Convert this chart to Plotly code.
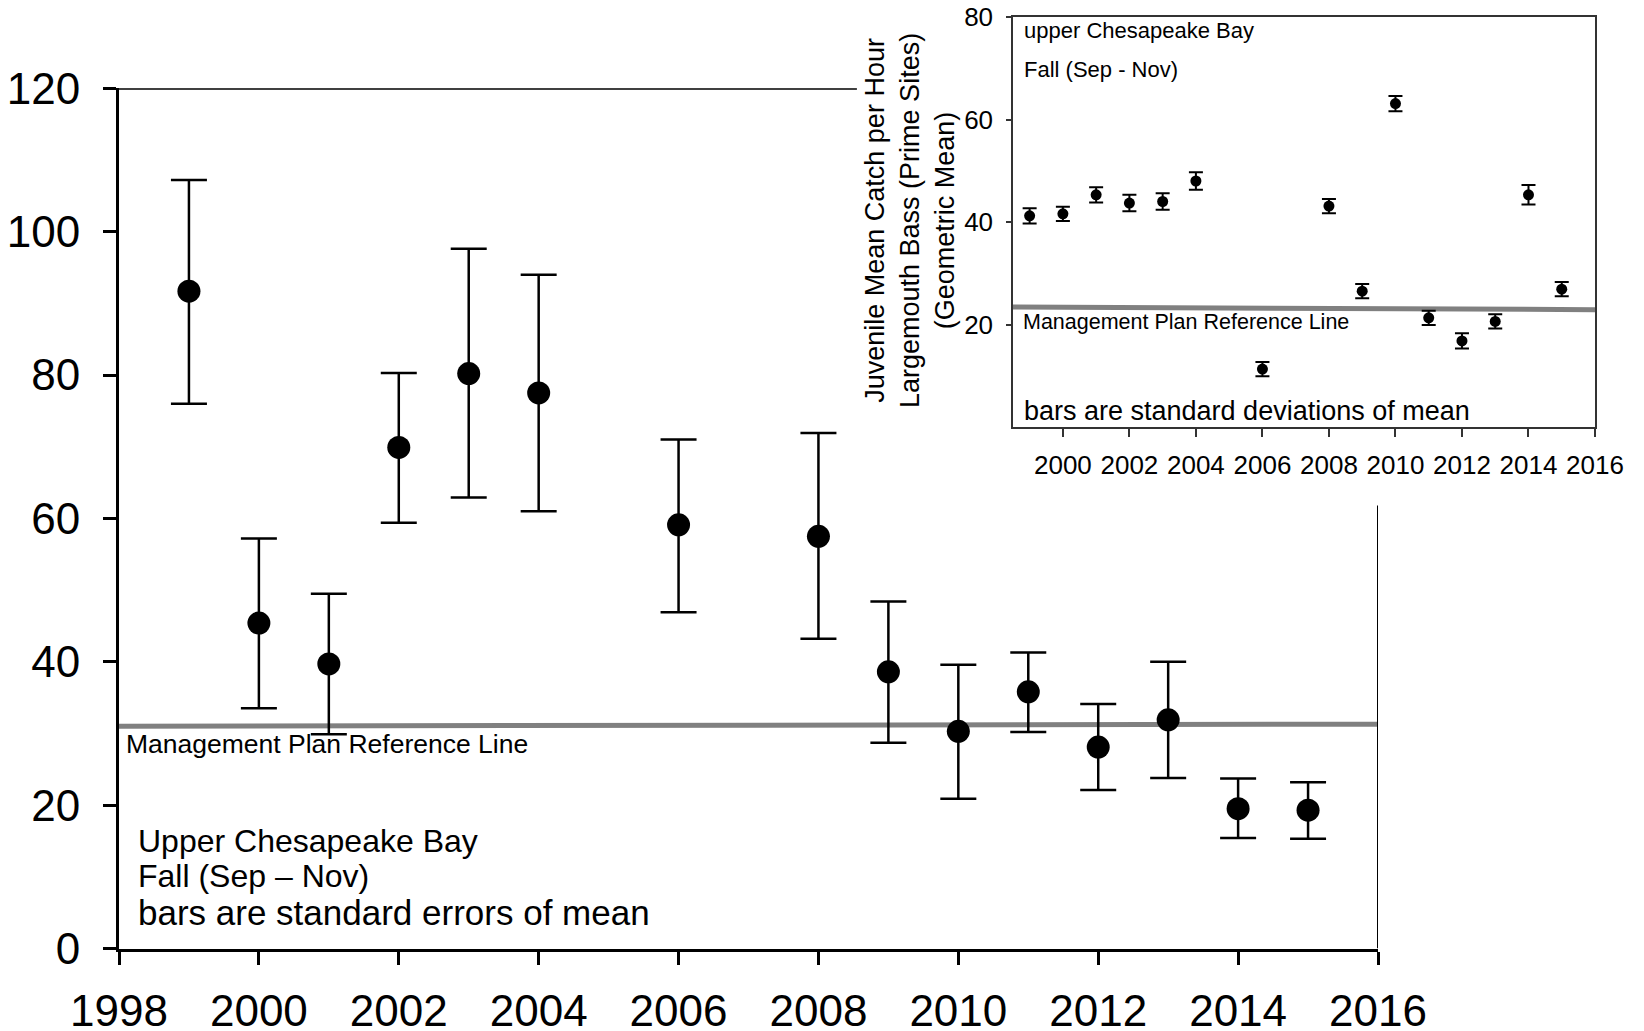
import plotly.graph_objects as go

# ---- data: main panel (standard errors) ----
years = [1999, 2000, 2001, 2002, 2003, 2004, 2006, 2008, 2009, 2010, 2011, 2012, 2013, 2014, 2015]
main_mean = [91.7, 45.4, 39.7, 69.9, 80.2, 77.5, 59.1, 57.5, 38.6, 30.3, 35.8, 28.1, 31.9, 19.5, 19.3]
main_upper = [107.2, 57.2, 49.5, 80.3, 97.6, 94.0, 71.0, 71.9, 48.4, 39.6, 41.3, 34.1, 40.0, 23.7, 23.2]
main_lower = [76.0, 33.5, 29.9, 59.4, 62.9, 61.0, 46.9, 43.2, 28.7, 20.9, 30.2, 22.1, 23.8, 15.4, 15.3]
main_ref_x = [1998, 2016]
main_ref_y = [31.0, 31.3]

# ---- data: inset panel (standard deviations) ----
inset_mean = [41.2, 41.6, 45.3, 43.7, 44.0, 48.0, 11.3, 43.1, 26.5, 63.1, 21.3, 16.8, 20.6, 45.3, 26.9]
inset_sd = [1.5, 1.4, 1.5, 1.6, 1.6, 1.7, 1.4, 1.4, 1.4, 1.5, 1.4, 1.5, 1.4, 1.9, 1.4]
inset_ref_x = [1998.5, 2016]
inset_ref_y = [23.4, 22.9]

main_xticks = list(range(1998, 2017, 2))
main_yticks = [0, 20, 40, 60, 80, 100, 120]
inset_xticks = list(range(2000, 2017, 2))
inset_yticks = [20, 40, 60, 80]

W, H = 1644, 1031
FONT = "Liberation Sans, Arial, sans-serif"

def px(x):
    return x / W

def py(y):
    return 1 - y / H

err_plus = [u - m for u, m in zip(main_upper, main_mean)]
err_minus = [m - l for m, l in zip(main_mean, main_lower)]

fig = go.Figure()

fig.add_trace(go.Scatter(
    x=main_ref_x, y=main_ref_y, mode="lines",
    line=dict(color="#808080", width=5), xaxis="x", yaxis="y",
    showlegend=False, hoverinfo="skip"))

fig.add_trace(go.Scatter(
    x=years, y=main_mean, mode="markers",
    marker=dict(color="black", size=23),
    error_y=dict(type="data", symmetric=False, array=err_plus, arrayminus=err_minus,
                 color="black", thickness=2.5, width=18),
    xaxis="x", yaxis="y", showlegend=False, cliponaxis=False))

fig.add_trace(go.Scatter(
    x=inset_ref_x, y=inset_ref_y, mode="lines",
    line=dict(color="#808080", width=5), xaxis="x2", yaxis="y2",
    showlegend=False, hoverinfo="skip"))

fig.add_trace(go.Scatter(
    x=years, y=inset_mean, mode="markers",
    marker=dict(color="black", size=11),
    error_y=dict(type="data", array=inset_sd, color="black", thickness=2, width=7),
    xaxis="x2", yaxis="y2", showlegend=False))

axis_font_main = dict(family=FONT, size=44, color="black")
axis_font_inset = dict(family=FONT, size=26, color="black")

fig.update_layout(
    width=W, height=H,
    margin=dict(l=0, r=0, t=0, b=0),
    paper_bgcolor="white", plot_bgcolor="rgba(0,0,0,0)",
    font=dict(family=FONT, color="black"),
    xaxis=dict(domain=[px(119), px(1378)], range=[1998, 2016], tickvals=main_xticks,
               showline=True, linecolor="black", linewidth=3, ticks="outside",
               ticklen=13, tickwidth=2.5, tickcolor="black", showgrid=False,
               zeroline=False, tickfont=axis_font_main, anchor="y",
               ticklabelstandoff=9, automargin=False),
    yaxis=dict(domain=[py(948.5), py(88.3)], range=[0, 120], tickvals=main_yticks,
               showline=True, linecolor="black", linewidth=3, ticks="outside",
               ticklen=13, tickwidth=2.5, tickcolor="black", showgrid=False,
               zeroline=False, tickfont=axis_font_main, anchor="x",
               ticklabelstandoff=14, automargin=False),
    xaxis2=dict(domain=[px(1013), px(1595)], range=[1998.5, 2016], tickvals=inset_xticks,
                showline=True, mirror=True, linecolor="#333333", linewidth=1.5,
                ticks="outside", ticklen=8, tickwidth=1.5, tickcolor="#333333",
                showgrid=False, zeroline=False, tickfont=axis_font_inset, anchor="y2",
                ticklabelstandoff=6, automargin=False),
    yaxis2=dict(domain=[py(427), py(17)], range=[0, 80], tickvals=inset_yticks,
                showline=True, mirror=True, linecolor="#333333", linewidth=1.5,
                ticks="outside", ticklen=5, tickwidth=1.5, tickcolor="#333333",
                showgrid=False, zeroline=False, tickfont=axis_font_inset, anchor="x2",
                ticklabelstandoff=8, automargin=False),
    shapes=[
        dict(type="line", xref="x", yref="y", x0=1998, x1=2008.55, y0=120, y1=120,
             line=dict(color="black", width=3)),
        dict(type="line", xref="x", yref="y", x0=2016, x1=2016, y0=0, y1=61.8,
             line=dict(color="black", width=2)),
    ],
)

def note(text, x, y, size, xanchor="left", angle=0):
    fig.add_annotation(text=text, x=x, y=y, xref="paper", yref="paper",
                       xanchor=xanchor, yanchor="middle", showarrow=False,
                       textangle=angle, font=dict(family=FONT, size=size, color="black"))

# main panel notes
note("Management Plan Reference Line", px(124), py(744), 26.5)
note("Upper Chesapeake Bay", px(136), py(841), 32)
note("Fall (Sep \u2013 Nov)", px(136), py(876), 32)
note("bars are standard errors of mean", px(136), py(912), 35)

# inset notes
note("upper Chesapeake Bay", px(1022), py(31), 22)
note("Fall (Sep - Nov)", px(1022), py(70), 22)
note("Management Plan Reference Line", px(1021), py(322), 21.5)
note("bars are standard deviations of mean", px(1022), py(411), 27)
note("Juvenile Mean Catch per Hour<br>Largemouth Bass (Prime Sites)<br>(Geometric Mean)",
     px(910), py(221), 27, xanchor="center", angle=-90)

fig.write_html("out.html",
               config={"displayModeBar": False},
               post_script="document.body.style.margin='0';document.body.style.overflow='hidden';")
